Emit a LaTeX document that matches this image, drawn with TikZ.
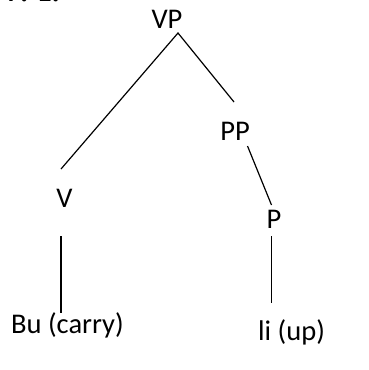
\documentclass[tikz,border=0pt]{standalone}
\usepackage{fontspec}
\setmainfont{Carlito}
\newfontfamily\numfont{Liberation Serif}
\begin{document}
\begin{tikzpicture}[x=1pt,y=-1pt,
  lbl/.style={inner sep=0pt,anchor=base,font=\fontsize{28.5}{30}\selectfont},
  edge/.style={line width=1.2pt}]
\useasboundingbox (0,0) rectangle (369,370);
\node[inner sep=0pt,anchor=base west,font=\numfont\bfseries\fontsize{29}{30}\selectfont] (num) at (6,1.5) {7. 1.};
\node[lbl] (VP) at (167,28) {VP};
\node[lbl] (PP) at (235,140) {PP};
\node[lbl] (V) at (64.5,207) {V};
\node[lbl] (P) at (274,228) {P};
\node[lbl,anchor=base west] (Bu) at (11,333) {Bu (carry)};
\node[lbl,anchor=base west] (li) at (258,340) {li (up)};
\coordinate (apex) at (178,33);
\coordinate (vtop) at (61,169);
\coordinate (pptop) at (234,102);
\coordinate (ppbot) at (247.5,146);
\coordinate (ptop) at (271.5,205);
\coordinate (pbot) at (271.5,236);
\coordinate (liTop) at (271.5,303);
\coordinate (vbot) at (61,236);
\coordinate (buTop) at (61,313);
\draw[edge] (vtop) -- (apex) -- (pptop);
\draw[edge] (ppbot) -- (ptop);
\draw[edge] (pbot) -- (liTop);
\draw[edge] (vbot) -- (buTop);
\end{tikzpicture}
\end{document}
